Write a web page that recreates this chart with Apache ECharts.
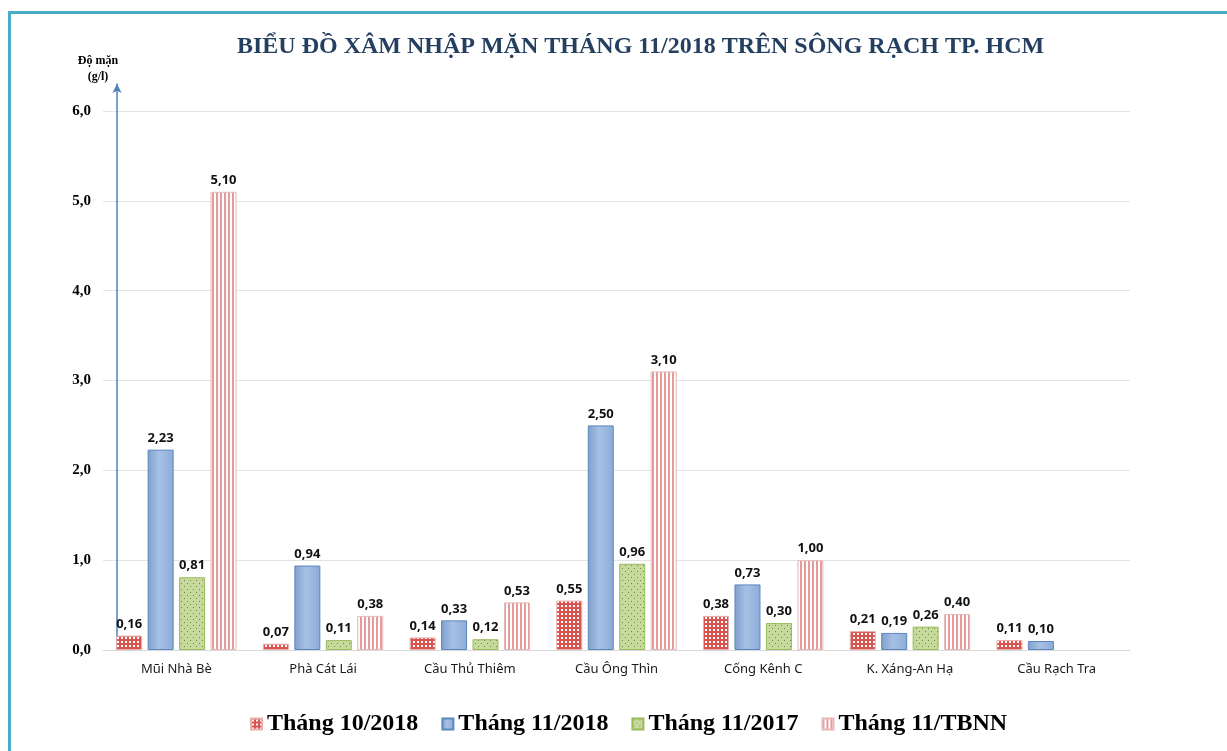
<!DOCTYPE html>
<html>
<head>
<meta charset="utf-8">
<script src="https://cdn.jsdelivr.net/npm/echarts@6/dist/echarts.min.js"></script>
<style>
  html, body { margin: 0; padding: 0; background: #fff; }
  .frame {
    position: absolute; left: 8px; top: 11px; width: 1240px; height: 760px;
    border-left: 3px solid #4bacc6; border-top: 3px solid #4bacc6;
  }
  #chart { position: absolute; left: 0; top: 0; width: 1227px; height: 751px; }
</style>
</head>
<body>
<div class="frame"></div>
<div id="chart"></div>
<script>
const stations = ['Mũi Nhà Bè', 'Phà Cát Lái', 'Cầu Thủ Thiêm', 'Cầu Ông Thìn', 'Cống Kênh C', 'K. Xáng-An Hạ', 'Cầu Rạch Tra']
const thang10_2018 = [0.16, 0.07, 0.14, 0.55, 0.38, 0.21, 0.11]
const thang11_2018 = [2.23, 0.94, 0.33, 2.50, 0.73, 0.19, 0.10]
const thang11_2017 = [0.81, 0.11, 0.12, 0.96, 0.30, 0.26, null]
const thang11_tbnn = [5.10, 0.38, 0.53, 3.10, 1.00, 0.40, null]
const yTicks = [0, 1, 2, 3, 4, 5, 6]

// small canvas tiles used as bar fills
function tile(w, h, draw) {
  const c = document.createElement('canvas')
  c.width = w
  c.height = h
  draw(c.getContext('2d'))
  return c
}

const checkerRed = tile(4, 4, ctx => {
  ctx.fillStyle = '#d9534f'
  ctx.fillRect(0, 0, 4, 4)
  ctx.fillStyle = '#ffffff'
  ctx.fillRect(1, 1, 2, 2)
})

const dotsGreen = tile(6, 6, ctx => {
  ctx.fillStyle = '#c6da9e'
  ctx.fillRect(0, 0, 6, 6)
  ctx.fillStyle = '#6f8a3a'
  ctx.fillRect(1, 1, 1, 1)
  ctx.fillRect(4, 4, 1, 1)
})

const stripesRed = tile(4, 4, ctx => {
  ctx.fillStyle = '#ffffff'
  ctx.fillRect(0, 0, 4, 4)
  ctx.fillStyle = '#e79a9a'
  ctx.fillRect(0, 0, 2, 4)
})

const blueFill = new echarts.graphic.LinearGradient(0, 0, 1, 0, [
  { offset: 0, color: '#7f9fcb' },
  { offset: 0.45, color: '#a6c1e5' },
  { offset: 1, color: '#8babd7' }
])

const fmt2 = v => v.toFixed(2).replace('.', ',')

const label = {
  show: true,
  position: 'top',
  distance: 5,
  color: '#111',
  fontFamily: 'Noto Sans',
  fontWeight: 'bold',
  fontSize: 13,
  formatter: p => fmt2(p.value)
}

function bar(name, data, color, border) {
  return {
    name,
    type: 'bar',
    data,
    barWidth: 26,
    barGap: '21%',
    itemStyle: { color, borderColor: border, borderWidth: 1 },
    label
  }
}

const chart = echarts.init(document.getElementById('chart'))

chart.setOption({
  animation: false,
  backgroundColor: 'transparent',
  title: {
    text: 'BIỂU ĐỒ XÂM NHẬP MẶN THÁNG 11/2018 TRÊN SÔNG RẠCH TP. HCM',
    left: 232,
    top: 30,
    textStyle: { fontFamily: 'Liberation Serif', fontWeight: 'bold', fontSize: 24, color: '#243f60' }
  },
  legend: {
    bottom: 10,
    left: 245,
    icon: 'rect',
    itemWidth: 11,
    itemHeight: 11,
    itemGap: 23,
    textStyle: { fontFamily: 'Liberation Serif', fontWeight: 'bold', fontSize: 24, color: '#000' }
  },
  grid: { left: 103, right: 97, top: 84, bottom: 101 },
  xAxis: {
    type: 'category',
    data: stations,
    axisTick: { show: false },
    axisLine: { lineStyle: { color: '#d9d9d9', width: 1 } },
    axisLabel: { margin: 13, color: '#1a1a1a', fontFamily: 'Noto Sans', fontSize: 13 }
  },
  yAxis: {
    type: 'value',
    min: 0,
    max: 6.3,
    interval: 1,
    offset: -14,
    name: 'Độ mặn\n(g/l)',
    nameLocation: 'end',
    nameGap: -1,
    nameTextStyle: {
      fontFamily: 'Liberation Serif', fontWeight: 'bold', fontSize: 12, color: '#000',
      lineHeight: 16, padding: [0, 38, 0, 0]
    },
    axisLine: {
      show: true,
      symbol: ['none', 'arrow'],
      symbolSize: [7, 9],
      lineStyle: { color: '#4f81bd', width: 1.5 }
    },
    axisTick: { show: false },
    splitLine: { show: true, showMaxLine: false, lineStyle: { color: '#e3e3e3' } },
    axisLabel: {
      showMaxLabel: false,
      margin: 26,
      color: '#000',
      fontFamily: 'Liberation Serif',
      fontWeight: 'bold',
      fontSize: 15,
      formatter: v => (yTicks.includes(v) ? v.toFixed(1).replace('.', ',') : '')
    }
  },
  series: [
    bar('Tháng 10/2018', thang10_2018, { image: checkerRed, repeat: 'repeat' }, '#e6b0ae'),
    bar('Tháng 11/2018', thang11_2018, blueFill, '#5d86bf'),
    bar('Tháng 11/2017', thang11_2017, { image: dotsGreen, repeat: 'repeat' }, '#9bbb59'),
    bar('Tháng 11/TBNN', thang11_tbnn, { image: stripesRed, repeat: 'repeat' }, '#e6b9b8')
  ]
})

window.addEventListener('resize', () => chart.resize())
</script>
</body>
</html>
